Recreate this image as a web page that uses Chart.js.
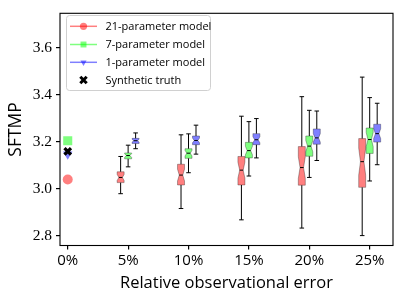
<!DOCTYPE html>
<html><head><meta charset="utf-8">
<script src="https://cdn.jsdelivr.net/npm/chart.js@4.4.0/dist/chart.umd.min.js"></script>
<style>html,body{margin:0;padding:0;background:#fff}#wrap{width:403px;height:302px;position:relative}</style>
</head><body><div id="wrap"><canvas id="c"></canvas></div>
<script>
// ---- data ----
const errorLevels = [5, 10, 15, 20, 25];
const xTicks = [0, 5, 10, 15, 20, 25];
const yTicks = [2.8, 3.0, 3.2, 3.4, 3.6];
const modelNames = ['21-parameter model', '7-parameter model', '1-parameter model'];
const truthLabel = 'Synthetic truth';
const zeroErrorValues = [3.04, 3.205, 3.148];
const truthValue = 3.16;

const m21Lo = [2.980, 2.917, 2.869, 2.834, 2.802];
const m21Q1 = [3.027, 3.017, 3.017, 3.016, 3.007];
const m21Med = [3.049, 3.059, 3.080, 3.091, 3.116];
const m21Q3 = [3.073, 3.105, 3.138, 3.180, 3.214];
const m21Hi = [3.138, 3.230, 3.309, 3.392, 3.475];
const m21Notch = [0.013, 0.025, 0.034, 0.046, 0.058];

const m7Lo = [3.094, 3.069, 3.055, 3.049, 3.034];
const m7Q1 = [3.128, 3.130, 3.132, 3.139, 3.151];
const m7Med = [3.142, 3.152, 3.163, 3.182, 3.210];
const m7Q3 = [3.153, 3.171, 3.198, 3.225, 3.259];
const m7Hi = [3.186, 3.234, 3.286, 3.334, 3.388];
const m7Notch = [0.008, 0.012, 0.018, 0.024, 0.030];

const m1Lo = [3.171, 3.148, 3.132, 3.121, 3.103];
const m1Q1 = [3.193, 3.188, 3.188, 3.190, 3.199];
const m1Med = [3.205, 3.206, 3.209, 3.217, 3.235];
const m1Q3 = [3.215, 3.225, 3.235, 3.255, 3.275];
const m1Hi = [3.238, 3.271, 3.299, 3.331, 3.364];
const m1Notch = [0.006, 0.010, 0.013, 0.018, 0.021];

// ---- styles ----
const fills = ['rgba(255,0,0,0.5)', 'rgba(0,255,0,0.5)', 'rgba(0,0,255,0.5)'];
const pointStyles = ['circle', 'rect', 'triangle'];
const pointRot = [0, 0, 180];
const pointRad = [5, 6.4, 5.5];
const boxOffsets = [-0.62, 0, 0.62];
const boxWidth = 0.58;

const models = [
  {lo: m21Lo, q1: m21Q1, med: m21Med, q3: m21Q3, hi: m21Hi, notch: m21Notch},
  {lo: m7Lo, q1: m7Q1, med: m7Med, q3: m7Q3, hi: m7Hi, notch: m7Notch},
  {lo: m1Lo, q1: m1Q1, med: m1Med, q3: m1Q3, hi: m1Hi, notch: m1Notch}
];

const datasets = modelNames.map((name, i) => ({
  label: name,
  data: [{x: 0, y: zeroErrorValues[i]}],
  pointStyle: pointStyles[i],
  rotation: pointRot[i],
  radius: pointRad[i],
  backgroundColor: fills[i],
  borderColor: fills[i],
  borderWidth: 0,
  order: 1
}));
datasets.push({
  label: truthLabel,
  data: [{x: 0, y: truthValue}],
  pointStyle: 'crossRot',
  radius: 4.6,
  borderWidth: 3.2,
  borderColor: '#000',
  backgroundColor: '#000',
  order: 0
});

const boxPlugin = {
  id: 'boxes',
  afterDatasetsDraw(chart) {
    const {ctx, scales: {x, y}} = chart;
    const py = v => y.getPixelForValue(v);
    ctx.save();
    models.forEach((m, mi) => {
      errorLevels.forEach((e, i) => {
        const cx = x.getPixelForValue(e + boxOffsets[mi]);
        const hw = (x.getPixelForValue(boxWidth) - x.getPixelForValue(0)) / 2;
        const capw = hw * 0.65;
        ctx.strokeStyle = '#000';
        ctx.lineWidth = 1;
        ctx.beginPath();
        ctx.moveTo(cx, py(m.q1[i])); ctx.lineTo(cx, py(m.lo[i]));
        ctx.moveTo(cx, py(m.q3[i])); ctx.lineTo(cx, py(m.hi[i]));
        ctx.moveTo(cx - capw, py(m.lo[i])); ctx.lineTo(cx + capw, py(m.lo[i]));
        ctx.moveTo(cx - capw, py(m.hi[i])); ctx.lineTo(cx + capw, py(m.hi[i]));
        ctx.stroke();
        const nLo = py(m.med[i] - m.notch[i]);
        const nHi = py(m.med[i] + m.notch[i]);
        const yMed = py(m.med[i]);
        ctx.beginPath();
        ctx.moveTo(cx - hw, py(m.q1[i]));
        ctx.lineTo(cx - hw, nLo);
        ctx.lineTo(cx - hw / 2, yMed);
        ctx.lineTo(cx - hw, nHi);
        ctx.lineTo(cx - hw, py(m.q3[i]));
        ctx.lineTo(cx + hw, py(m.q3[i]));
        ctx.lineTo(cx + hw, nHi);
        ctx.lineTo(cx + hw / 2, yMed);
        ctx.lineTo(cx + hw, nLo);
        ctx.lineTo(cx + hw, py(m.q1[i]));
        ctx.closePath();
        ctx.fillStyle = fills[mi];
        ctx.fill();
        ctx.strokeStyle = 'rgba(0,0,0,0.3)';
        ctx.stroke();
        ctx.strokeStyle = '#000';
        ctx.beginPath();
        ctx.moveTo(cx - hw / 2, yMed); ctx.lineTo(cx + hw / 2, yMed);
        ctx.stroke();
      });
    });
    ctx.restore();
  },
  afterDraw(chart) {
    const {ctx, chartArea: a} = chart;
    ctx.save();
    ctx.strokeStyle = '#000';
    ctx.lineWidth = 1.1;
    ctx.strokeRect(a.left, a.top, a.right - a.left, a.bottom - a.top);
    // legend
    const lx = 66.5, ly = 15.5, lw = 144, lh = 75;
    ctx.beginPath();
    ctx.roundRect(lx, ly, lw, lh, 3);
    ctx.fillStyle = 'rgba(255,255,255,0.8)';
    ctx.fill();
    ctx.strokeStyle = '#d0d0d0';
    ctx.lineWidth = 1;
    ctx.stroke();
    const rowY = [26.3, 44.5, 62.3, 80];
    ctx.textBaseline = 'middle';
    ctx.textAlign = 'left';
    chart.data.datasets.forEach((ds, i) => {
      const yy = rowY[i];
      if (i < 3) {
        ctx.strokeStyle = fills[i];
        ctx.lineWidth = 1.5;
        ctx.beginPath(); ctx.moveTo(70, yy); ctx.lineTo(97, yy); ctx.stroke();
        ctx.fillStyle = fills[i];
        ctx.strokeStyle = 'rgba(0,0,0,0)';
        Chart.helpers.drawPoint(ctx, {pointStyle: ds.pointStyle, rotation: ds.rotation, radius: i === 1 ? 4.2 : 3.6, borderWidth: 0}, 83.5, yy);
      } else {
        ctx.strokeStyle = '#000';
        ctx.lineWidth = 3;
        const s = 3.2;
        ctx.beginPath();
        ctx.moveTo(83.5 - s, yy - s); ctx.lineTo(83.5 + s, yy + s);
        ctx.moveTo(83.5 - s, yy + s); ctx.lineTo(83.5 + s, yy - s);
        ctx.stroke();
      }
      ctx.font = '11px "Open Sans"';
      ctx.fillStyle = '#000';
      ctx.fillText(ds.label, 105.5, yy + 0.5);
    });
    ctx.restore();
  }
};

new Chart(document.getElementById('c'), {
  type: 'scatter',
  data: {datasets},
  options: {
    responsive: true,
    maintainAspectRatio: false,
    animation: false,
    layout: {padding: {left: 0, right: 10, top: 9, bottom: 0}},
    plugins: {legend: {display: false}, tooltip: {enabled: false}},
    scales: {
      x: {
        type: 'linear', min: -0.64, max: 26.93,
        afterBuildTicks: s => { s.ticks = xTicks.map(v => ({value: v})); },
        afterFit: s => { s.height = 56.5; },
        ticks: {callback: v => v + '%', color: '#000', padding: 2, maxRotation: 0, font: {family: 'Open Sans', size: 15}},
        grid: {display: true, drawOnChartArea: false, drawTicks: true, tickLength: 4, color: '#000', lineWidth: 1.2},
        border: {display: false},
        title: {display: true, text: 'Relative observational error', color: '#000', font: {family: 'Open Sans', size: 16.5}, padding: {top: 0, bottom: 9}}
      },
      y: {
        type: 'linear', min: 2.76, max: 3.746,
        afterBuildTicks: s => { s.ticks = yTicks.map(v => ({value: v})); },
        afterFit: s => { s.width = 60; },
        ticks: {callback: v => v.toFixed(1), color: '#000', padding: 4, font: {family: 'Liberation Serif', size: 15.5}},
        grid: {display: true, drawOnChartArea: false, drawTicks: true, tickLength: 4, color: '#000', lineWidth: 1.2},
        border: {display: false},
        title: {display: true, text: 'SFTMP', color: '#000', font: {family: 'Open Sans', size: 17.5}, padding: {top: 6, bottom: 0}}
      }
    }
  },
  plugins: [boxPlugin]
});
</script></body></html>
